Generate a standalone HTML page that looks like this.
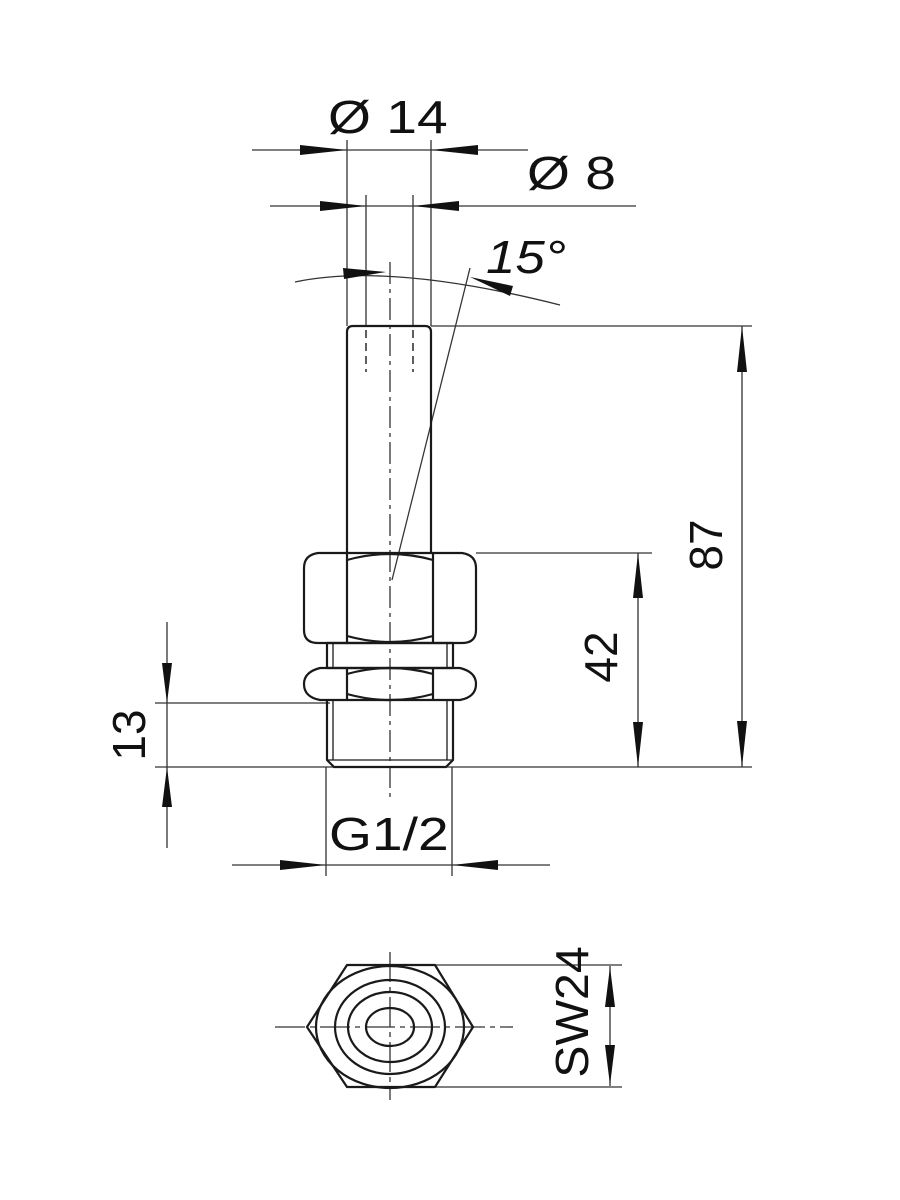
<!DOCTYPE html>
<html><head><meta charset="utf-8"><style>html,body{margin:0;padding:0;background:#fff}svg{display:block}</style></head>
<body>
<svg width="900" height="1200" viewBox="0 0 900 1200" xmlns="http://www.w3.org/2000/svg" font-family="Liberation Sans, sans-serif">
<g stroke="#333" stroke-width="1.3" fill="none">
<line x1="252" y1="150" x2="528" y2="150"/>
<line x1="347" y1="140" x2="347" y2="326"/>
<line x1="431" y1="140" x2="431" y2="326"/>
<line x1="270" y1="206" x2="636" y2="206"/>
<line x1="366" y1="195" x2="366" y2="326"/>
<line x1="413" y1="195" x2="413" y2="326"/>
<path d="M295,282 Q390,262 560,305"/>
<line x1="470" y1="268" x2="392" y2="580"/>
<line x1="390" y1="262" x2="390" y2="800" stroke-dasharray="22,5,4,5"/>
<line x1="431" y1="326" x2="752" y2="326"/>
<line x1="742" y1="326" x2="742" y2="767"/>
<line x1="476" y1="553" x2="652" y2="553"/>
<line x1="638" y1="553" x2="638" y2="767"/>
<line x1="155" y1="767" x2="752" y2="767"/>
<line x1="155" y1="703" x2="330" y2="703"/>
<line x1="167" y1="622" x2="167" y2="848"/>
<line x1="326" y1="767" x2="326" y2="876"/>
<line x1="452" y1="767" x2="452" y2="876"/>
<line x1="232" y1="865" x2="550" y2="865"/>
<line x1="435" y1="965" x2="622" y2="965"/>
<line x1="435" y1="1087" x2="622" y2="1087"/>
<line x1="610" y1="966" x2="610" y2="1086"/>
<line x1="275" y1="1027" x2="513" y2="1027" stroke-dasharray="30,5,5,5"/>
<line x1="390" y1="952" x2="390" y2="1100" stroke-dasharray="30,5,5,5"/>
</g>
<g fill="#111">
<path d="M300,145 L347,150 L300,155 z"/>
<path d="M478,145 L431,150 L478,155 z"/>
<path d="M320,201 L366,206 L320,211 z"/>
<path d="M459,201 L413,206 L459,211 z"/>
<path d="M343,268 L386,272 L344,279 z"/>
<path d="M470,277 L513,286 L510,296 z"/>
<path d="M737,372 L742,326 L747,372 z"/>
<path d="M737,721 L742,767 L747,721 z"/>
<path d="M633,598 L638,553 L643,598 z"/>
<path d="M633,722 L638,767 L643,722 z"/>
<path d="M162,663 L167,703 L172,663 z"/>
<path d="M162,807 L167,767 L172,807 z"/>
<path d="M280,860 L326,865 L280,870 z"/>
<path d="M498,860 L452,865 L498,870 z"/>
<path d="M605,1007 L610,967 L615,1007 z"/>
<path d="M605,1045 L610,1085 L615,1045 z"/>
</g>
<g stroke="#1a1a1a" stroke-width="2.2" fill="none" stroke-linejoin="round">
<path d="M347,553 L347,332 Q347,326 353,326 L425,326 Q431,326 431,332 L431,553"/>
<line x1="366" y1="330" x2="366" y2="372" stroke-width="1.4" stroke-dasharray="8,5"/>
<line x1="413" y1="330" x2="413" y2="372" stroke-width="1.4" stroke-dasharray="8,5"/>
<path d="M318,553 L462,553 Q476,555 476,568 L476,630 Q476,643 462,643 L318,643 Q304,643 304,630 L304,568 Q304,555 318,553 z"/>
<line x1="347" y1="553" x2="347" y2="643"/>
<line x1="433" y1="553" x2="433" y2="643"/>
<path d="M347,560 Q390,548 433,560"/>
<path d="M347,636 Q390,648 433,636"/>
<rect x="327" y="643" width="126" height="25"/>
<line x1="333" y1="643" x2="333" y2="668" stroke-width="1.3"/>
<line x1="447" y1="643" x2="447" y2="668" stroke-width="1.3"/>
<path d="M320,668 L460,668 Q476,672 476,684 Q476,697 460,700 L320,700 Q304,697 304,684 Q304,672 320,668 z"/>
<line x1="347" y1="668" x2="347" y2="700"/>
<line x1="433" y1="668" x2="433" y2="700"/>
<path d="M347,674 Q390,662 433,674"/>
<path d="M347,694 Q390,706 433,694"/>
<path d="M327,700 L327,760 L334,767 L446,767 L453,760 L453,700"/>
<line x1="333" y1="700" x2="333" y2="760" stroke-width="1.3"/>
<line x1="447" y1="700" x2="447" y2="760" stroke-width="1.3"/>
<line x1="327" y1="760" x2="453" y2="760" stroke-width="1.3"/>
<path d="M347,965 L435,965 L473,1027 L435,1087 L347,1087 L307,1027 z"/>
<ellipse cx="390" cy="1027" rx="74" ry="61"/>
<ellipse cx="390" cy="1027" rx="55" ry="47"/>
<ellipse cx="390" cy="1027" rx="42" ry="35"/>
<ellipse cx="390" cy="1027" rx="24" ry="19"/>
</g>
<g fill="#111" font-size="46">
<text transform="translate(328,133) scale(1.2,1)">Ø 14</text>
<text transform="translate(527,189) scale(1.2,1)">Ø 8</text>
<text transform="translate(486,273) scale(1.15,1)" font-style="italic">15°</text>
<text transform="translate(329,850) scale(1.2,1)">G1/2</text>
<text transform="translate(722,545) rotate(-90)" text-anchor="middle">87</text>
<text transform="translate(617,657) rotate(-90)" text-anchor="middle">42</text>
<text transform="translate(145,735) rotate(-90)" text-anchor="middle">13</text>
<text transform="translate(588,1012) rotate(-90) scale(1.05,1)" text-anchor="middle">SW24</text>
</g>
</svg>
</body></html>
